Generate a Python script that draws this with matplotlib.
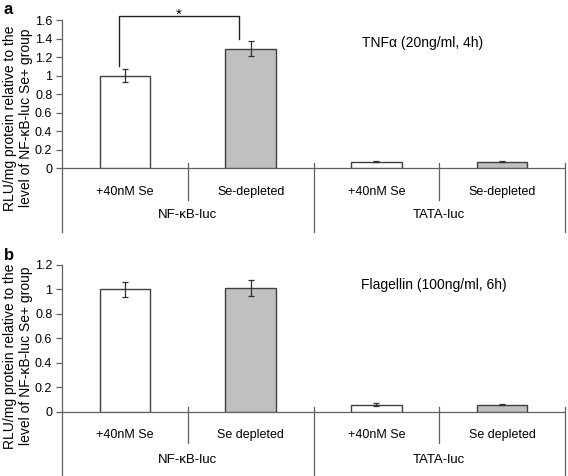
import matplotlib.pyplot as plt
import numpy as np

plt.rcParams['font.family'] = ['Liberation Sans', 'DejaVu Sans']

# Data
categories_a = ['+40nM Se', 'Se-depleted', '+40nM Se', 'Se-depleted']
categories_b = ['+40nM Se', 'Se depleted', '+40nM Se', 'Se depleted']
groups = ['NF-\u03baB-luc', 'TATA-luc']

tnf_values = [1.0, 1.29, 0.07, 0.07]
tnf_errors = [0.07, 0.08, 0.005, 0.006]

flag_values = [1.0, 1.01, 0.058, 0.055]
flag_errors = [0.06, 0.065, 0.01, 0.004]

bar_colors = ['white', '#c0c0c0', 'white', '#c0c0c0']

W, H = 568, 476
ax_left, ax_right = 62, 565
edge = '#404040'
axis_col = '#606060'

fig = plt.figure(figsize=(W / 100, H / 100), dpi=100)


def px_axes(top_px, zero_px):
    # axes placed by pixel rows of the top tick and the zero line
    return fig.add_axes([ax_left / W, 1 - zero_px / H,
                         (ax_right - ax_left) / W, (zero_px - top_px) / H])


def draw_panel(ax, values, errors, cats, ymax, step, ax_h_px,
               cat_dy, grp_dy, inner_len, outer_len):
    x = np.arange(len(values))
    ax.bar(x, values, width=0.4, color=bar_colors, edgecolor=edge, linewidth=1.0, zorder=3)
    ax.errorbar(x, values, yerr=errors, fmt='none', ecolor='#303030',
                elinewidth=0.9, capsize=2.5, capthick=0.9, zorder=4)
    ax.set_xlim(-0.5, len(values) - 0.5)
    ax.set_ylim(0, ymax)
    ticks = np.arange(0, ymax + step / 2, step)
    ax.set_yticks(ticks)
    ax.set_yticklabels(['0' if t == 0 else ('1' if abs(t - 1) < 1e-9 else '%.1f' % t)
                        for t in ticks])
    ax.tick_params(axis='y', length=4, width=0.9, color=axis_col, labelsize=9, pad=3)
    ax.set_xticks([])
    for s in ['top', 'right']:
        ax.spines[s].set_visible(False)
    for s in ['left', 'bottom']:
        ax.spines[s].set_color(axis_col)
        ax.spines[s].set_linewidth(0.9)

    tr = ax.get_xaxis_transform()
    f = 1.0 / ax_h_px
    # left axis continues below the zero line
    ax.plot([-0.5, -0.5], [0, -outer_len * f], color=axis_col, lw=0.9,
            transform=tr, clip_on=False)
    for sx in [0.5, 2.5]:
        ax.plot([sx, sx], [5 * f, -inner_len * f], color=axis_col, lw=0.9,
                transform=tr, clip_on=False)
    for sx in [1.5, 3.5]:
        ax.plot([sx, sx], [5 * f, -outer_len * f], color=axis_col, lw=0.9,
                transform=tr, clip_on=False)
    for xi, c in zip(x, cats):
        ax.text(xi, -cat_dy * f, c, transform=tr, ha='center', va='center', fontsize=9)
    for gi, g in enumerate(groups):
        ax.text(2 * gi + 0.5, -grp_dy * f, g, transform=tr, ha='center', va='center', fontsize=9.5)


# panel a
ax1 = px_axes(20, 168)
draw_panel(ax1, tnf_values, tnf_errors, categories_a, 1.6, 0.2, 148, 24, 47, 32, 64)
ax1.text(0.717, 0.845, 'TNF\u03b1 (20ng/ml, 4h)', transform=ax1.transAxes,
         ha='center', va='center', fontsize=10)
# significance bracket
br_x = [-0.05, 0.91]
br_y = [1.10, 1.64, 1.64, 1.40]
ax1.plot([br_x[0], br_x[0], br_x[1], br_x[1]], br_y, color='#202020', lw=1.0, clip_on=False)
ax1.text(0.43, 1.61, '*', ha='center', va='baseline', fontsize=11)

# panel b
ax2 = px_axes(265, 411.7)
draw_panel(ax2, flag_values, flag_errors, categories_b, 1.2, 0.2, 146.7, 23.5, 48, 31, 66)
ax2.text(0.74, 0.864, 'Flagellin (100ng/ml, 6h)', transform=ax2.transAxes,
         ha='center', va='center', fontsize=10)

ylab = 'RLU/mg protein relative to the\nlevel of NF-\u03baB-luc Se+ group'
fig.text(18 / W, 1 - 118 / H, ylab, rotation=90, ha='center', va='center',
         fontsize=10, linespacing=1.1, multialignment='center')
fig.text(18 / W, 1 - 356 / H, ylab, rotation=90, ha='center', va='center',
         fontsize=10, linespacing=1.1, multialignment='center')

fig.text(4 / W, 1 - 9 / H, 'a', fontsize=12, fontweight='bold', va='center', ha='left')
fig.text(4 / W, 1 - 255 / H, 'b', fontsize=12, fontweight='bold', va='center', ha='left')

fig.savefig('out.png', dpi=100)
